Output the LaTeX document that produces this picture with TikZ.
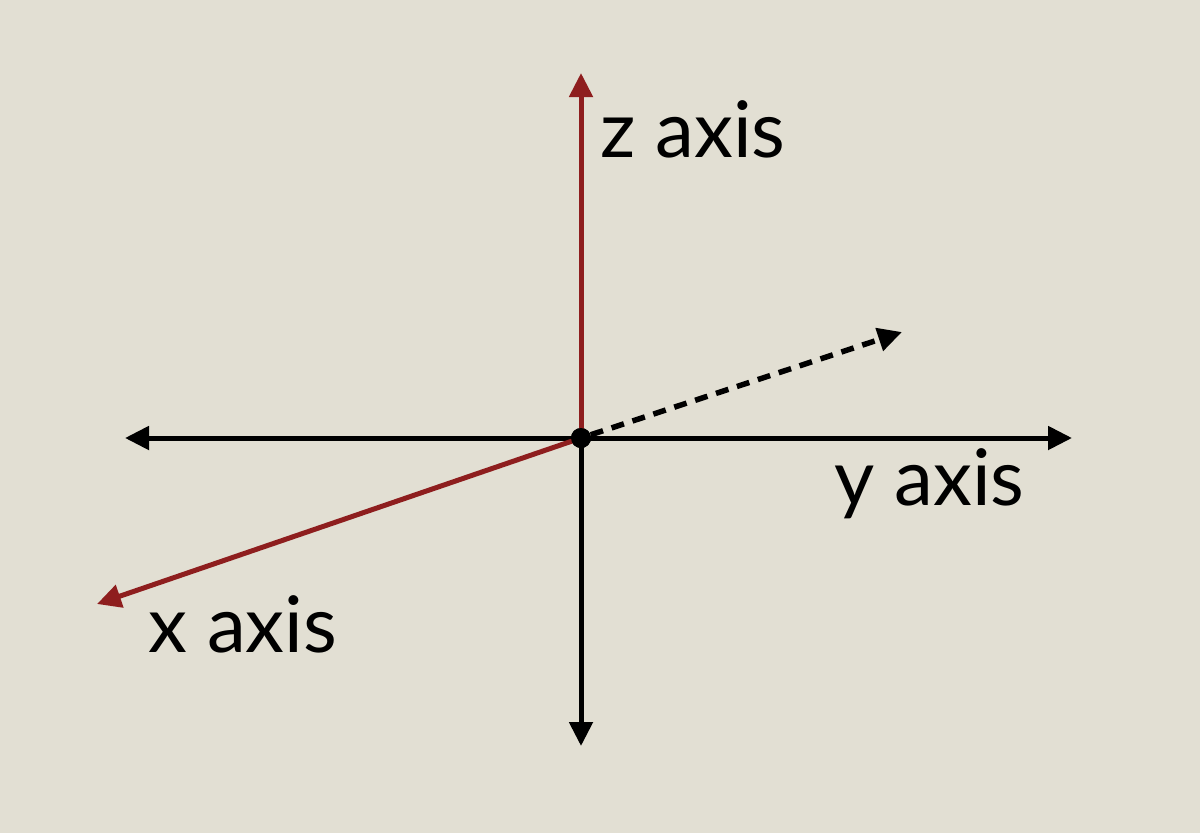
\documentclass[tikz,border=0pt]{standalone}
\usepackage{fontspec}
\setmainfont{Lato}
\usepackage{tikz}
\usetikzlibrary{arrows.meta, positioning, calc}
\definecolor{paper}{RGB}{226,223,211}
\definecolor{axisred}{RGB}{142,30,30}
\tikzset{
  axisline/.style={line width=5pt, -{Triangle[length=24pt,width=23pt]}},
  axislabel/.style={anchor=base west, inner sep=0pt, font=\fontsize{78}{82}\selectfont}
}

\begin{document}
\begin{tikzpicture}[x=1pt, y=-1pt]
\fill[paper] (0,0) rectangle (1200,833);
\useasboundingbox (0,0) rectangle (1200,833);
\node[circle, fill=black, inner sep=0pt, minimum size=20pt] (o) at (581,438) {};
\coordinate (ztip) at (581,73);
\coordinate (ytip) at (1072,438);
\coordinate (left) at (125,438);
\coordinate (down) at (581,746);
\coordinate (xtip) at (97,604);
\coordinate (deep) at (902,332);
% axes
\draw[axisline] (o.center) -- (left);
\draw[axisline] (o.center) -- (ytip);
\draw[axisline] (o.center) -- (down);
\draw[axisline, axisred] (o.center) -- (ztip);
\draw[axisline, axisred] (o.center) -- (xtip);
\draw[axisline, line width=5.5pt, dash pattern=on 13pt off 9pt] (o) -- (deep);
\node[circle, fill=black, inner sep=0pt, minimum size=20pt] at (o) {};
% labels
\node[axislabel] (zlab) at (600,157) {z axis};
\node[axislabel] (ylab) at (834,505) {y axis};
\node[axislabel] (xlab) at (148,652) {x axis};
\end{tikzpicture}
\end{document}
